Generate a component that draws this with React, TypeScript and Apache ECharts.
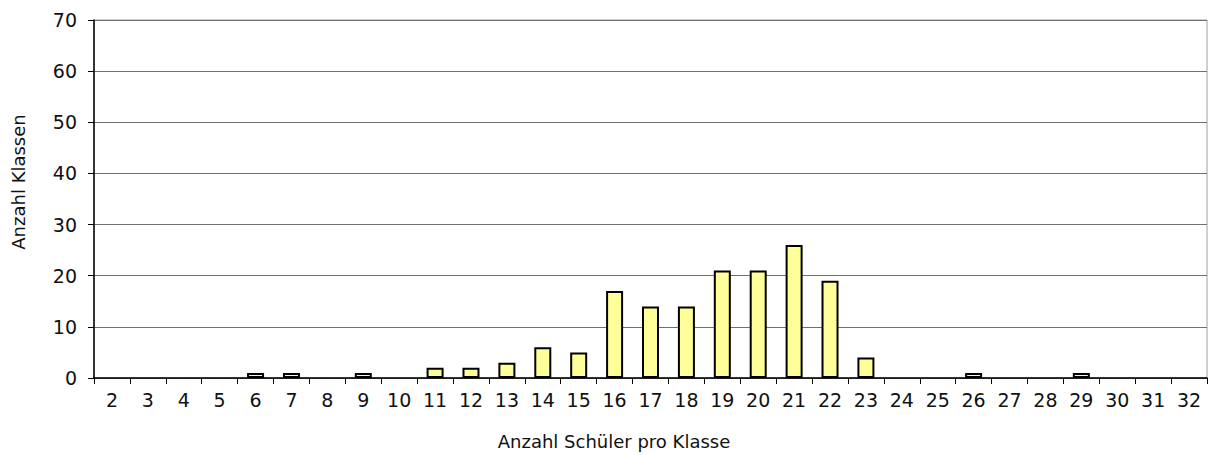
import React, { useEffect, useRef } from "react";
import * as echarts from "echarts";

const categories = ["2","3","4","5","6","7","8","9","10","11","12","13","14","15","16","17","18","19","20","21","22","23","24","25","26","27","28","29","30","31","32"];
const classCounts = [0,0,0,0,1,1,0,1,0,2,2,3,6,5,17,14,14,21,21,26,19,4,0,0,1,0,0,1,0,0,0];
const yTicks = { min: 0, max: 70, interval: 10 };
const yAxisName = "Anzahl Klassen";
const xAxisName = "Anzahl Schüler pro Klasse";

const FONT = "'DejaVu Sans', Verdana, sans-serif";
const FS = 19;
const NAME_FS = 18;

export default function App() {
  const ref = useRef<HTMLDivElement>(null);
  useEffect(() => {
    if (!ref.current) return;
    const chart = echarts.init(ref.current, null, { renderer: "svg" });
    chart.setOption({
      animation: false,
      backgroundColor: "#ffffff",
      textStyle: { fontFamily: FONT },
      grid: {
        left: 94,
        right: 7,
        top: 20,
        bottom: 77,
        show: true,
        borderColor: "#a0a0a0",
        borderWidth: 1,
      },
      xAxis: {
        type: "category",
        data: categories,
        boundaryGap: true,
        axisLine: { show: true, lineStyle: { color: "#000", width: 1.5 } },
        axisTick: { show: true, alignWithLabel: false, length: 6, lineStyle: { color: "#000", width: 1 } },
        axisLabel: { color: "#111", fontSize: FS, margin: 12, fontFamily: FONT, interval: 0 },
        splitLine: { show: false },
      },
      yAxis: {
        type: "value",
        min: yTicks.min,
        max: yTicks.max,
        interval: yTicks.interval,
        axisLine: { show: true, lineStyle: { color: "#000", width: 1.5 } },
        axisTick: { show: true, length: 6, lineStyle: { color: "#000" } },
        axisLabel: { color: "#111", fontSize: FS, margin: 17, fontFamily: FONT },
        splitLine: { show: true, lineStyle: { color: "#707070", width: 1.2 } },
      },
      graphic: [
        {
          type: "text",
          x: 614,
          y: 441,
          style: {
            text: xAxisName,
            fill: "#111",
            font: `${NAME_FS}px ${FONT}`,
            textAlign: "center",
            textVerticalAlign: "middle",
          },
        },
        {
          type: "text",
          x: 18,
          y: 182,
          rotation: Math.PI / 2,
          style: {
            text: yAxisName,
            fill: "#111",
            font: `${NAME_FS}px ${FONT}`,
            textAlign: "center",
            textVerticalAlign: "middle",
          },
        },
      ],
      series: [
        {
          type: "bar",
          data: classCounts.map((v) => (v === 0 ? null : v)),
          barWidth: 17,
          itemStyle: { color: "#FFFF99", borderColor: "#000", borderWidth: 2 },
        },
      ],
    });
    return () => chart.dispose();
  }, []);
  return (
    <div
      ref={ref}
      style={{ position: "fixed", left: 0, top: 0, width: 1214, height: 455 }}
    />
  );
}
